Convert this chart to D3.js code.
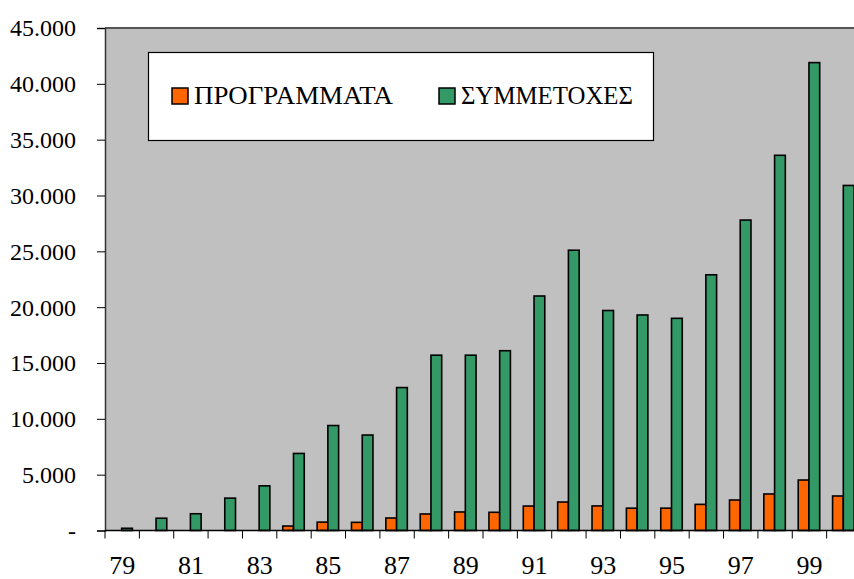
<!DOCTYPE html>
<html>
<head>
<meta charset="utf-8">
<script src="https://cdn.jsdelivr.net/npm/d3@7"></script>
<style>
  body { margin: 0; background: #fff; }
  text { font-family: "Liberation Serif", "Times New Roman", serif; fill: #000; }
</style>
</head>
<body>
<script>
// Chart size
var w = 854;
var h = 579;

// Data
var years = ["79", "80", "81", "82", "83", "84", "85", "86", "87", "88", "89",
             "90", "91", "92", "93", "94", "95", "96", "97", "98", "99", "00"];
var programmata = [0, 0, 0, 0, 0, 400, 750, 730, 1120, 1480, 1660,
                   1630, 2190, 2550, 2200, 2000, 2000, 2340, 2730, 3270, 4520, 3090];
var symmetoxes = [200, 1100, 1500, 2900, 4000, 6900, 9400, 8550, 12800, 15700, 15700,
                  16100, 21000, 25100, 19700, 19300, 19000, 22900, 27800, 33600, 41900, 30900];
var seriesNames = ["ΠΡΟΓΡΑΜΜΑΤΑ", "ΣΥΜΜΕΤΟΧΕΣ"];
var seriesColors = ["#ff6600", "#339966"];
var yTicks = [0, 5000, 10000, 15000, 20000, 25000, 30000, 35000, 40000, 45000];

// Plot area
var plotLeft = 105, plotTop = 28, plotBottom = 530.5, plotRight = 861;

var svg = d3.select("body")
            .append("svg")
            .attr("width", w)
            .attr("height", h);

var xscale = d3.scaleBand()
               .domain(years)
               .range([plotLeft, plotRight])
               .padding(0);

var inner = d3.scaleBand()
              .domain(seriesNames)
              .range([0, xscale.bandwidth()])
              .paddingInner(0)
              .paddingOuter(0.6);

var yscale = d3.scaleLinear()
               .domain([0, 45000])
               .range([plotBottom, plotTop]);

// Gray plot background
svg.append("rect")
   .attr("x", plotLeft)
   .attr("y", plotTop)
   .attr("width", plotRight - plotLeft)
   .attr("height", plotBottom - plotTop)
   .attr("fill", "#c0c0c0");

// Top border of the plot area
svg.append("line")
   .attr("x1", plotLeft).attr("x2", plotRight)
   .attr("y1", plotTop).attr("y2", plotTop)
   .attr("stroke", "#555")
   .attr("stroke-width", 2);

// Bars, one group per series
var series = [programmata, symmetoxes];
series.forEach(function(values, s) {
    svg.append("g")
       .selectAll("rect")
       .data(values)
       .enter()
       .append("rect")
       .attr("x", function(d, i) { return xscale(years[i]) + inner(seriesNames[s]) - 0.5; })
       .attr("y", function(d) { return yscale(d); })
       .attr("width", inner.bandwidth())
       .attr("height", function(d) { return plotBottom - yscale(d); })
       .attr("fill", seriesColors[s])
       .attr("stroke", "#000")
       .attr("stroke-width", 1.6)
       .style("display", function(d) { return d > 0 ? null : "none"; });
});

// Y axis
var yAxis = d3.axisLeft(yscale)
              .tickValues(yTicks)
              .tickSize(8)
              .tickPadding(21)
              .tickFormat(function(d) { return d === 0 ? "-" : d3.format(",")(d).replace(/,/g, "."); });

var yg = svg.append("g")
            .attr("transform", "translate(" + plotLeft + ",0)")
            .call(yAxis);
yg.selectAll("text").style("font-size", "24px").attr("dy", "0.33em");
yg.select(".domain").attr("stroke", "#333").attr("stroke-width", 1.5);
yg.selectAll(".tick line").attr("stroke", "#000");

// X axis: ticks at band edges
var xg = svg.append("g");
xg.append("line")
  .attr("x1", plotLeft).attr("x2", plotRight)
  .attr("y1", plotBottom).attr("y2", plotBottom)
  .attr("stroke", "#000")
  .attr("stroke-width", 1.5);
xg.selectAll(".xtick")
  .data(years)
  .enter()
  .append("line")
  .attr("class", "xtick")
  .attr("x1", function(d) { return xscale(d); })
  .attr("x2", function(d) { return xscale(d); })
  .attr("y1", plotBottom)
  .attr("y2", plotBottom + 8)
  .attr("stroke", "#000");
xg.selectAll(".xlabel")
  .data(years.filter(function(d, i) { return i % 2 === 0; }))
  .enter()
  .append("text")
  .attr("class", "xlabel")
  .attr("x", function(d) { return xscale(d) + xscale.bandwidth() / 2; })
  .attr("y", 574)
  .attr("text-anchor", "middle")
  .style("font-size", "26px")
  .text(function(d) { return d; });

// Legend
var legend = svg.append("g");
legend.append("rect")
      .attr("x", 148.5).attr("y", 52.5)
      .attr("width", 505).attr("height", 88)
      .attr("fill", "#fff")
      .attr("stroke", "#000")
      .attr("stroke-width", 1.2);
var legendX = [172, 439];
var legendTextWidth = [199, 172];
seriesNames.forEach(function(name, s) {
    legend.append("rect")
          .attr("x", legendX[s]).attr("y", 88)
          .attr("width", 16).attr("height", 16)
          .attr("fill", seriesColors[s])
          .attr("stroke", "#000")
          .attr("stroke-width", 1.5);
    legend.append("text")
          .attr("x", legendX[s] + 22)
          .attr("y", 104)
          .attr("textLength", legendTextWidth[s])
          .attr("lengthAdjust", "spacingAndGlyphs")
          .style("font-size", "26px")
          .text(name);
});
</script>
</body>
</html>
